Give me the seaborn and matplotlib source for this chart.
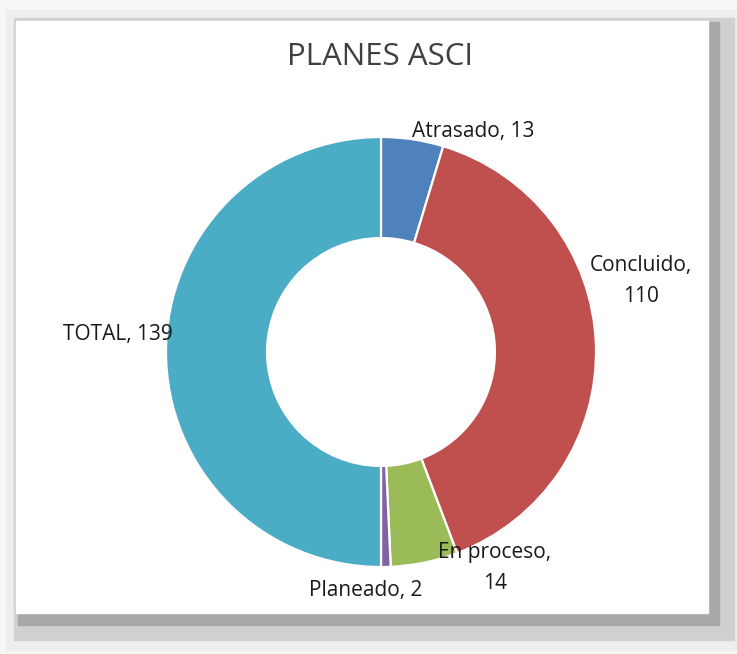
import matplotlib
matplotlib.use("Agg")
import matplotlib.pyplot as plt
import seaborn as sns
from matplotlib.patches import Rectangle

# data
estados = ["Atrasado", "Concluido", "En proceso", "Planeado", "TOTAL"]
valores = [13, 110, 14, 2, 139]
colores = ["#4F81BD", "#C0504D", "#9BBB59", "#8064A2", "#4BACC6"]

sns.set_theme(style="white")
plt.rcParams["font.family"] = ["Open Sans", "DejaVu Sans"]

fig = plt.figure(figsize=(7.37, 6.54), dpi=100)
fig.patch.set_facecolor("#f7f7f7")

W, H = 737, 654
def rect(x0, y0, x1, y1, c):
    # pixel coords, top-left origin
    fig.patches.append(Rectangle((x0 / W, 1 - y1 / H), (x1 - x0) / W, (y1 - y0) / H,
                                 transform=fig.transFigure, color=c, zorder=-1))

# shadow frame around the chart
rect(6, 10, 736, 650, "#eeeeee")
rect(14, 18, 734, 640, "#d0d0d0")
rect(18, 22, 719, 625, "#a8a8a8")
rect(16, 21, 708, 613, "white")

cx, cy, r = 381, 352, 215
ax = fig.add_axes([(cx - r) / W, (H - cy - r) / H, 2 * r / W, 2 * r / H])

wedges, _ = ax.pie(valores, colors=colores, startangle=90, counterclock=False,
                   radius=1, wedgeprops=dict(width=0.47, edgecolor="white", linewidth=1.6))
ax.set_xlim(-1, 1)
ax.set_ylim(-1, 1)
ax.axis("off")

etiquetas = ["Atrasado, 13", "Concluido,\n110", "En proceso,\n14", "Planeado, 2", "TOTAL, 139"]
pos = [(0.43, 1.025), (1.21, 0.33), (0.53, -1.005), (-0.07, -1.107), (-1.223, 0.08)]
for t, (x, y) in zip(etiquetas, pos):
    ax.text(x, y, t, ha="center", va="center", fontsize=15, color="#1a1a1a",
            linespacing=1.6, clip_on=False)

fig.text(380 / W, 1 - 57 / H, "PLANES ASCI", ha="center", va="center",
         fontsize=22.5, color="#404040")

fig.savefig("out.png", dpi=100, facecolor=fig.get_facecolor())
